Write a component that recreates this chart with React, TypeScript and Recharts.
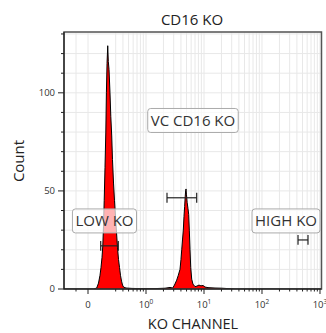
import {
  AreaChart,
  Area,
  XAxis,
  YAxis,
  CartesianGrid,
  ReferenceLine,
  ReferenceDot,
  ReferenceArea,
} from "recharts";

// histogram bins: position on the logicle display axis (decades), and event count
const binPos = [
  -0.414, 0.1, 0.15, 0.181, 0.207, 0.224, 0.241, 0.255, 0.267, 0.279, 0.293,
  0.307, 0.317, 0.328, 0.34, 0.35, 0.362, 0.379, 0.393, 0.409, 0.422, 0.44,
  0.457, 0.474, 0.491, 0.509, 0.526, 0.543, 0.56, 0.578, 0.595, 0.612, 0.655,
  0.759, 0.897, 1.155, 1.328, 1.414, 1.46, 1.491, 1.529, 1.557, 1.586, 1.603,
  1.616, 1.629, 1.643, 1.655, 1.666, 1.676, 1.683, 1.69, 1.698, 1.71, 1.724,
  1.736, 1.747, 1.759, 1.771, 1.788, 1.81, 1.845, 1.879, 1.914, 1.948, 1.983,
  2.017, 2.069, 2.19, 2.31, 2.414, 2.534, 4.026,
];
const binCount = [
  0, 0, 0.5, 3, 7, 11, 16, 22, 32, 45, 62, 80, 100, 115, 124, 116, 112, 100,
  88, 78, 66, 54, 45, 37, 29, 21, 15, 11, 7, 4, 2, 1, 0.5, 0.3, 0.2, 0.2, 0.4,
  0.8, 0.5, 2, 4.5, 7, 10, 15, 20, 25, 30, 37, 42, 47, 50, 51, 48, 44, 41, 38,
  30, 20, 11, 5, 2.5, 1.2, 1.5, 2, 1.6, 1.8, 1, 0.7, 0.5, 0.4, 0.2, 0, 0,
];

// gates
const gateNames = ["LOW KO", "VC CD16 KO", "HIGH KO"];
const gateStart = [0.219, 1.362, 3.621];
const gateEnd = [0.522, 1.874, 3.793];
const gateLevel = [22, 46.5, 25];
const labelPos = [0.284, 1.81, 3.414];
const labelLevel = [34.7, 85.9, 34.7];

// axes
const xMajorTicks = [0, 1, 2, 3, 4];
const xMajorLabels = ["0", "10^0", "10^1", "10^2", "10^3"];
const xBelowOne = [-0.207, 0.477, 0.602, 0.699, 0.778, 0.845, 0.903, 0.954];
const minorMultipliers = [2, 3, 4, 5, 6, 7, 8, 9];
const yTicks = [0, 10, 20, 30, 40, 50, 60, 70, 80, 90, 100, 110, 120, 130];
const yLabeled = [0, 50, 100];

const data = binPos.map((x, i) => ({ x, count: binCount[i] }));
const xMinorTicks = [
  ...xBelowOne,
  ...[1, 2, 3].flatMap((d) => minorMultipliers.map((k) => d + Math.log10(k))),
];
const xTicks = [...xMajorTicks, ...xMinorTicks].sort((a, b) => a - b);

const FONT = "'Open Sans', sans-serif";
const X_DOMAIN: [number, number] = [-0.414, 4.026];
const Y_DOMAIN: [number, number] = [0, 131];
const GATE_CAP = 2.5;

function textWidth(text: string, size: number) {
  const ctx = document.createElement("canvas").getContext("2d");
  if (!ctx) return text.length * size * 0.6;
  ctx.font = `${size}px 'Open Sans'`;
  return ctx.measureText(text).width;
}

function XTick({ x, y, payload }: any) {
  const i = xMajorTicks.indexOf(payload.value);
  if (i < 0) {
    return <line x1={x} x2={x} y1={y} y2={y + 2.5} stroke="#222" />;
  }
  const [base, exp] = xMajorLabels[i].split("^");
  return (
    <g>
      <line x1={x} x2={x} y1={y} y2={y + 5} stroke="#222" />
      <text
        x={x}
        y={y + 19}
        textAnchor="middle"
        fontSize={9.5}
        fontFamily={FONT}
        fill="#333"
      >
        {base}
        {exp && (
          <tspan dy={-4} fontSize={6.5}>
            {exp}
          </tspan>
        )}
      </text>
    </g>
  );
}

function YTick({ x, y, payload }: any) {
  const labeled = yLabeled.includes(payload.value);
  return (
    <g>
      <line x1={x - (labeled ? 6 : 3)} x2={x} y1={y} y2={y} stroke="#222" />
      {labeled && (
        <text
          x={x - 9}
          y={y + 3.4}
          textAnchor="end"
          fontSize={9.5}
          fontFamily={FONT}
          fill="#333"
        >
          {payload.value}
        </text>
      )}
    </g>
  );
}

function GateLabel({ cx, cy, text }: any) {
  const w = textWidth(text, 15) + 6;
  const h = 24;
  return (
    <g>
      <rect
        x={cx - w / 2}
        y={cy - h / 2}
        width={w}
        height={h}
        rx={3}
        fill="#fff"
        fillOpacity={0.7}
        stroke="#aaa"
      />
      <text
        x={cx}
        y={cy + 5.5}
        textAnchor="middle"
        fontSize={15}
        fontFamily={FONT}
        fill="#333"
      >
        {text}
      </text>
    </g>
  );
}

export default function App() {
  return (
    <div style={{ position: "absolute", left: 0, top: 0 }}>
      <AreaChart
        width={326}
        height={333}
        data={data}
        margin={{ top: 32, right: 4.5, bottom: 0, left: 24 }}
      >
        <CartesianGrid stroke="#e8e8e8" />
        <XAxis
          type="number"
          dataKey="x"
          domain={X_DOMAIN}
          allowDataOverflow
          ticks={xTicks}
          interval={0}
          tickSize={0}
          tickMargin={0}
          tickLine={false}
          tick={<XTick />}
          height={44}
          axisLine={{ stroke: "#111" }}
        />
        <YAxis
          type="number"
          domain={Y_DOMAIN}
          allowDataOverflow
          ticks={yTicks}
          interval={0}
          tickSize={0}
          tickMargin={0}
          tickLine={false}
          tick={<YTick />}
          width={40}
          axisLine={{ stroke: "#111" }}
        />
        <Area
          type="linear"
          dataKey="count"
          stroke="#000"
          strokeWidth={1}
          fill="#ff0000"
          fillOpacity={1}
          dot={false}
          activeDot={false}
          isAnimationActive={false}
        />
        <ReferenceArea
          x1={X_DOMAIN[0]}
          x2={X_DOMAIN[1]}
          y1={Y_DOMAIN[0]}
          y2={Y_DOMAIN[1]}
          fill="none"
          stroke="#555"
          strokeWidth={1.5}
        />
        {gateNames.map((name, i) => (
          <ReferenceDot
            key={name}
            x={labelPos[i]}
            y={labelLevel[i]}
            r={0}
            shape={(p: any) => <GateLabel cx={p.cx} cy={p.cy} text={name} />}
          />
        ))}
        {gateNames.map((name, i) => (
          <ReferenceLine
            key={`bar-${name}`}
            segment={[
              { x: gateStart[i], y: gateLevel[i] },
              { x: gateEnd[i], y: gateLevel[i] },
            ]}
            stroke="#222"
            strokeWidth={1.2}
          />
        ))}
        {gateNames.flatMap((name, i) =>
          [gateStart[i], gateEnd[i]].map((gx, j) => (
            <ReferenceLine
              key={`cap-${name}-${j}`}
              segment={[
                { x: gx, y: gateLevel[i] - GATE_CAP },
                { x: gx, y: gateLevel[i] + GATE_CAP },
              ]}
              stroke="#222"
              strokeWidth={1.2}
            />
          ))
        )}
        <text
          x={192}
          y={25}
          textAnchor="middle"
          fontSize={15}
          fontFamily={FONT}
          fill="#222"
        >
          CD16 KO
        </text>
        <text
          x={24}
          y={161}
          transform="rotate(-90, 24, 161)"
          textAnchor="middle"
          fontSize={15}
          fontFamily={FONT}
          fill="#222"
        >
          Count
        </text>
        <text
          x={193}
          y={329}
          textAnchor="middle"
          fontSize={14.5}
          fontFamily={FONT}
          fill="#222"
        >
          KO CHANNEL
        </text>
      </AreaChart>
    </div>
  );
}
